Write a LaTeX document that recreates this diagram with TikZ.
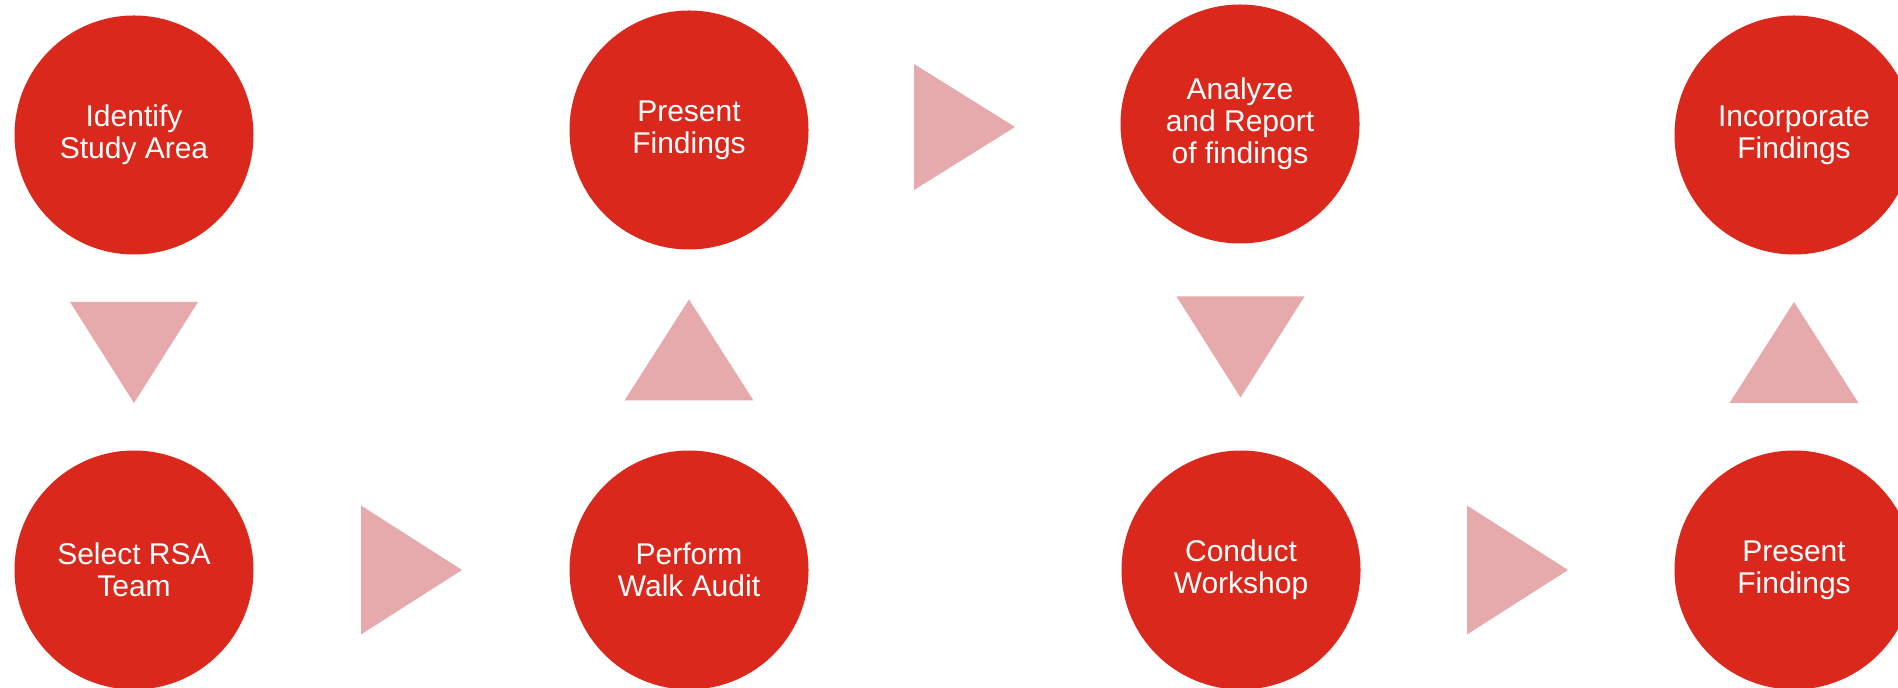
\documentclass[tikz,border=0pt]{standalone}
\usepackage{fontspec}
\setmainfont{Liberation Sans}
\usetikzlibrary{calc}
\definecolor{stepred}{RGB}{218,41,28}
\definecolor{arrowpink}{RGB}{230,170,173}
\begin{document}
\begin{tikzpicture}[x=0.5pt,y=-0.5pt,
  stepnode/.style={circle, fill=stepred, text=white, minimum size=119.5pt, inner sep=0pt,
    align=center, font=\fontsize{15}{16}\selectfont},
  arrowtri/.style={fill=arrowpink}]
\useasboundingbox (0,0) rectangle (1898,688);
% top row
\node[stepnode] (identify) at (134,135) {Identify\\Study Area};
\node[stepnode] (present1) at (689,130) {Present\\Findings};
\node[stepnode] (analyze)  at (1240,124) {Analyze\\and Report\\of findings};
\node[stepnode] (incorp)   at (1794,135) {Incorporate\\Findings};
% bottom row
\node[stepnode] (select)   at (134,570) {Select RSA\\Team};
\node[stepnode] (perform)  at (689,570) {Perform\\Walk Audit};
\node[stepnode] (conduct)  at (1241,570) {Conduct\\Workshop};
\node[stepnode] (present2) at (1794,570) {Present\\Findings};
% arrows (triangles)
\fill[arrowtri] ($(identify.center)!0.5!(select.center)$) ++(-64,-50.5) -- ++(128,0) -- ++(-64,101) -- cycle;
\fill[arrowtri] ($(select.center)!0.5!(perform.center)$) ++(-50.5,-64.5) -- ++(0,129) -- ++(101,-64.5) -- cycle;
\fill[arrowtri] ($(perform.center)!0.5!(present1.center)$) ++(-64.5,50.5) -- ++(129,0) -- ++(-64.5,-101) -- cycle;
\fill[arrowtri] ($(present1.center)!0.5!(analyze.center)$) ++(-50.5,-63) -- ++(0,126) -- ++(101,-63) -- cycle;
\fill[arrowtri] ($(analyze.center)!0.5!(conduct.center)$) ++(-64,-50.5) -- ++(128,0) -- ++(-64,101) -- cycle;
\fill[arrowtri] ($(conduct.center)!0.5!(present2.center)$) ++(-50.5,-64.5) -- ++(0,129) -- ++(101,-64.5) -- cycle;
\fill[arrowtri] ($(present2.center)!0.5!(incorp.center)$) ++(-64.5,50.5) -- ++(129,0) -- ++(-64.5,-101) -- cycle;
\end{tikzpicture}
\end{document}
